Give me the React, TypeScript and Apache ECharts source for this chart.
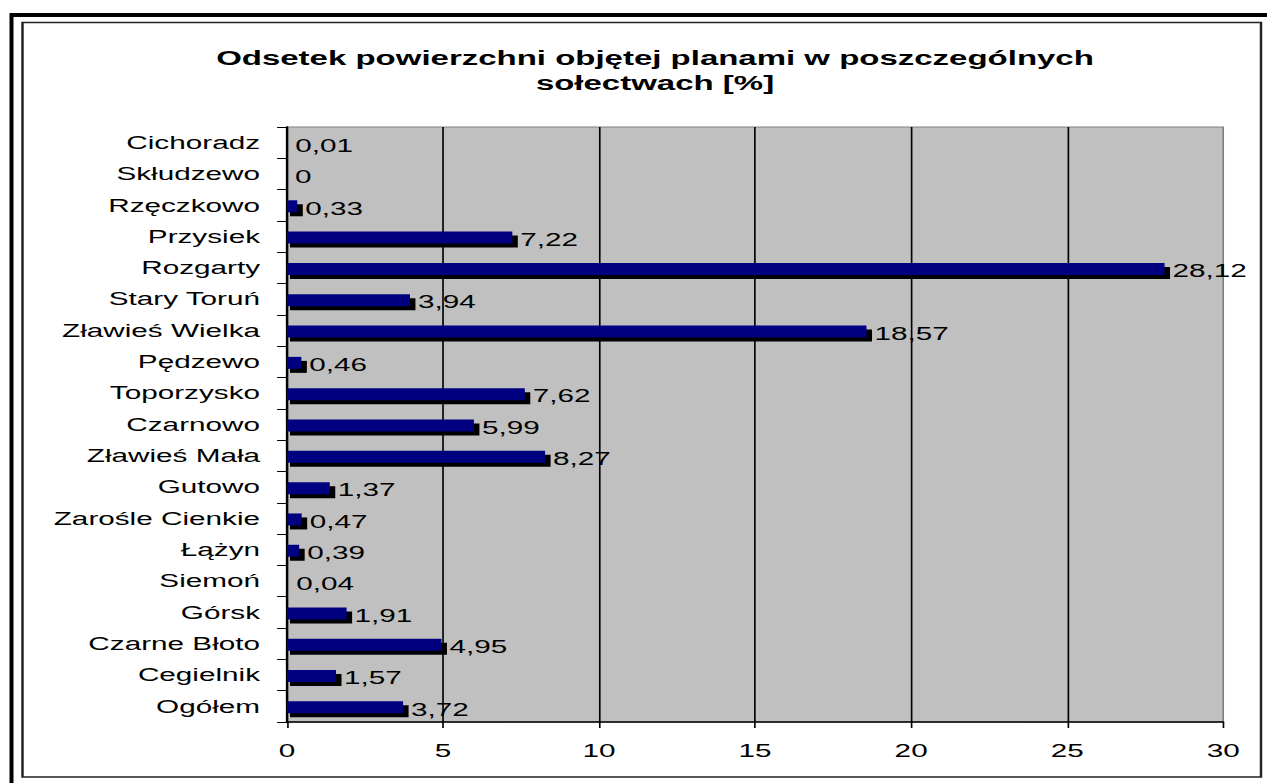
import React, { useEffect, useRef } from "react";
import * as echarts from "echarts";

const categories: string[] = [
  "Cichoradz",
  "Skłudzewo",
  "Rzęczkowo",
  "Przysiek",
  "Rozgarty",
  "Stary Toruń",
  "Zławieś Wielka",
  "Pędzewo",
  "Toporzysko",
  "Czarnowo",
  "Zławieś Mała",
  "Gutowo",
  "Zarośle Cienkie",
  "Łążyn",
  "Siemoń",
  "Górsk",
  "Czarne Błoto",
  "Cegielnik",
  "Ogółem",
];

const values: number[] = [
  0.01, 0, 0.33, 7.22, 28.12, 3.94, 18.57, 0.46, 7.62, 5.99, 8.27, 1.37, 0.47,
  0.39, 0.04, 1.91, 4.95, 1.57, 3.72,
];

const titleLines: string[] = [
  "Odsetek powierzchni objętej planami w poszczególnych",
  "sołectwach [%]",
];

const xTicks: number[] = [0, 5, 10, 15, 20, 25, 30];

// the reference image is horizontally stretched; reproduce that with a scaleX
const S = 1.65;
const W = 1267 / S;
const H = 783;
const FONT = 'Arial, "Liberation Sans", sans-serif';

const fmt = (v: number) => String(v).replace(".", ",");

export default function App() {
  const ref = useRef<HTMLDivElement>(null);

  useEffect(() => {
    if (!ref.current) return;
    const chart = echarts.init(ref.current, undefined, { renderer: "svg" });

    const option: any = {
      animation: false,
      backgroundColor: "#ffffff",
      graphic: [
        {
          type: "line",
          shape: { x1: 10 / S, y1: 15, x2: W, y2: 15 },
          style: { stroke: "#000", lineWidth: 4 },
          silent: true,
        },
        {
          type: "line",
          shape: { x1: 11.5 / S, y1: 13, x2: 11.5 / S, y2: H },
          style: { stroke: "#000", lineWidth: 4 / S },
          silent: true,
        },
        {
          type: "rect",
          shape: { x: 22.5 / S, y: 22.5, width: (1261 - 22.5) / S, height: 777 - 22.5 },
          style: { fill: "none", stroke: "#222", lineWidth: 1.5 },
          silent: true,
        },
        {
          type: "text",
          x: 655 / S,
          y: 46,
          style: {
            text: titleLines.join("\n"),
            align: "center",
            verticalAlign: "top",
            fontFamily: FONT,
            fontWeight: "bold",
            fontSize: 20,
            lineHeight: 25,
            fill: "#000",
          },
          silent: true,
        },
      ],
      grid: {
        left: 287 / S,
        right: W - 1223 / S,
        top: 127,
        bottom: H - 722,
        show: true,
        backgroundColor: "#c0c0c0",
        borderColor: "#808080",
        borderWidth: 1,
        containLabel: false,
      },
      xAxis: {
        type: "value",
        min: xTicks[0],
        max: xTicks[xTicks.length - 1],
        interval: xTicks[1] - xTicks[0],
        axisLine: { show: true, lineStyle: { color: "#000", width: 1.5 } },
        axisTick: { show: true, length: 6, lineStyle: { color: "#000", width: 1 } },
        axisLabel: {
          color: "#000",
          fontFamily: FONT,
          fontSize: 18,
          margin: 20,
          formatter: (v: number) => fmt(v),
        },
        splitLine: {
          show: true,
          showMinLine: false,
          showMaxLine: false,
          lineStyle: { color: "#000", width: 1 },
        },
      },
      yAxis: {
        type: "category",
        data: categories,
        inverse: true,
        axisLine: { show: true, lineStyle: { color: "#000", width: 1.5 } },
        axisTick: { show: true, length: 6, inside: false, lineStyle: { color: "#000", width: 1 } },
        axisLabel: {
          color: "#000",
          fontFamily: FONT,
          fontSize: 18,
          margin: 27 / S,
          padding: [4, 0, 0, 0],
        },
        splitLine: { show: false },
      },
      series: [
        {
          type: "custom",
          clip: false,
          encode: { x: 0, y: 1 },
          data: values.map((v, i) => [v, i]),
          renderItem: (params: any, api: any) => {
            const v = api.value(0);
            const idx = api.value(1);
            const p0 = api.coord([0, idx]);
            const p1 = api.coord([v, idx]);
            const cy = p0[1] + 1;
            const w = p1[0] - p0[0];
            const children: any[] = [];
            if (w * S > 2) {
              children.push({
                type: "rect",
                shape: { x: p0[0] + 3 / S, y: cy - 2, width: w + 2.5 / S, height: 12 },
                style: { fill: "#000" },
              });
              children.push({
                type: "rect",
                shape: { x: p0[0], y: cy - 6, width: w, height: 12 },
                style: { fill: "#000080" },
              });
            }
            children.push({
              type: "text",
              style: {
                text: fmt(v),
                x: p1[0] + 8 / S,
                y: cy + 2,
                align: "left",
                verticalAlign: "middle",
                fontFamily: FONT,
                fontSize: 18,
                fill: "#000",
              },
            });
            return { type: "group", children };
          },
        },
      ],
    };

    chart.setOption(option);
    return () => chart.dispose();
  }, []);

  return (
    <div
      style={{
        position: "fixed",
        left: 0,
        top: 0,
        width: 1267,
        height: H,
        overflow: "hidden",
        background: "#fff",
      }}
    >
      <div
        ref={ref}
        style={{
          width: W,
          height: H,
          transform: `scaleX(${S})`,
          transformOrigin: "0 0",
        }}
      />
    </div>
  );
}
